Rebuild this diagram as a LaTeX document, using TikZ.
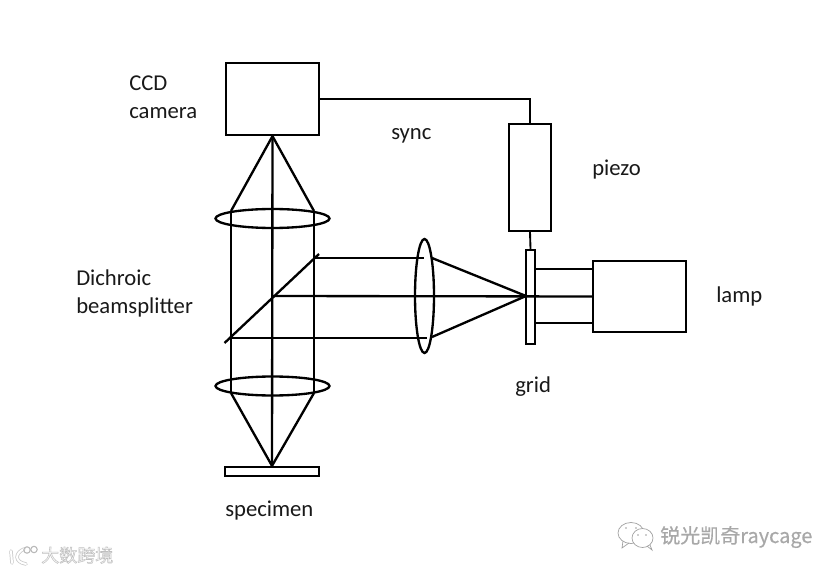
\documentclass[tikz,border=0pt]{standalone}
\usepackage{fontspec}
\setmainfont{Carlito}
\newfontfamily\cjkfont{Noto Sans CJK SC}
\usetikzlibrary{shapes.geometric}
\newlength{\pxu}\setlength{\pxu}{0.75pt}
\newcommand{\outlinedtext}[3]{\special{pdf:code q 2 Tr #3 w #2 G #1 g}}
\newcommand{\outlinedend}{\special{pdf:code Q}}
\tikzset{
  x=\pxu,y=-\pxu,
  boxn/.style={draw=black,line width=1.75pt,rectangle,inner sep=0pt,fill=none},
  lensn/.style={draw=black,line width=1.75pt,ellipse,inner sep=0pt},
  ray/.style={line width=1.75pt,black},
  wire/.style={line width=1.4pt,black},
  lab/.style={anchor=base west,inner sep=0pt,font=\fontsize{17pt}{19pt}\selectfont,text=black!90},
  mark1/.style={anchor=base west,inner sep=0pt,font=\cjkfont\fontsize{15pt}{18pt}\selectfont,text=black!45},
  mark2/.style={anchor=base west,inner sep=0pt,font=\cjkfont\fontsize{13.5pt}{16pt}\selectfont,text=white},
  iconline/.style={black!38,line width=0.5pt},
  logoout/.style={black!22,line width=2.6pt,line cap=round},
  logoin/.style={white,line width=1.5pt,line cap=round},
}
\begin{document}
\begin{tikzpicture}
\useasboundingbox[fill=white] (0,0) rectangle (838,573);
% boxes
\node[boxn,minimum width=93\pxu,minimum height=72\pxu] (ccd) at (272.5,99) {};
\node[boxn,minimum width=42\pxu,minimum height=107\pxu] (piezo) at (530,177.5) {};
\node[boxn,minimum width=9\pxu,minimum height=94\pxu] (grid) at (530.5,297) {};
\node[boxn,minimum width=93\pxu,minimum height=71\pxu] (lamp) at (639.5,296.5) {};
\node[boxn,minimum width=94\pxu,minimum height=9\pxu] (specimen) at (272,471.5) {};
% lenses
\node[lensn,minimum width=114\pxu,minimum height=19\pxu] (lensT) at (272.5,218.5) {};
\node[lensn,minimum width=114\pxu,minimum height=19\pxu] (lensB) at (272.5,386) {};
\node[lensn,minimum width=19\pxu,minimum height=114\pxu] (lensR) at (424.5,296) {};
% named points
\coordinate (apexB) at (specimen.north);
\coordinate (TL) at (231,211);
\coordinate (TR) at (314,211);
\coordinate (BL) at (231,393);
\coordinate (BR) at (314,393);
\coordinate (focus) at (526,296);
\coordinate (splitA) at (224.5,343);
\coordinate (splitB) at (319,254);
\coordinate (midSplit) at (273,296);
\coordinate (upS) at (314,258);
\coordinate (loS) at (231,338);
\coordinate (upL) at (432,258);
\coordinate (loL) at (432,337);
\coordinate (upLe) at (424,258);
\coordinate (loLe) at (427,338);
\coordinate (g1) at (535,269);
\coordinate (g2) at (535,323);
\coordinate (l1) at (593,269);
\coordinate (l2) at (593,323);
% rays
\draw[ray] (ccd.south) -- (specimen.north);
\draw[ray,line join=round] (TL) -- (ccd.south) -- (TR);
\draw[ray] (TL) -- (BL);
\draw[ray] (TR) -- (BR);
\draw[ray,line join=round] (BL) -- (apexB) -- (BR);
\draw[ray] (splitA) -- (splitB);
\draw[ray] (upS) -- (upLe);
\draw[ray] (loS) -- (loLe);
\draw[ray] (midSplit) -- (lamp.west);
\draw[ray] (upL) -- (focus) -- (loL);
\draw[ray] (g1) -- (l1);
\draw[ray] (g2) -- (l2);
% sync wiring
\draw[wire] (ccd.east) -| (piezo.north);
\draw[wire] (piezo.south) -- (grid.north);
% labels
\node[lab] (tCCD) at (129,91) {CCD};
\node[lab] (tcamera) at (129,119) {camera};
\node[lab] (tsync) at (391,140) {sync};
\node[lab] (tpiezo) at (592,176) {piezo};
\node[lab] (tdich) at (76,286) {Dichroic};
\node[lab] (tbeam) at (76,314) {beamsplitter};
\node[lab] (tlamp) at (716,303) {lamp};
\node[lab] (tgrid) at (515,392) {grid};
\node[lab] (tspec) at (225,516.5) {specimen};
% watermark right
\node[mark1] (wmR) at (660,543) {\outlinedtext{0.66}{0.66}{0.05}锐光凯奇raycage\outlinedend};
\draw[iconline,fill=white] (631,533) ellipse (13 and 10.5);
\draw[iconline] (623,541) -- (622,548) -- (629,543);
\draw[iconline,fill=white] (642.5,538) ellipse (10.5 and 9.5);
\draw[iconline] (647,546) -- (652,550) -- (650,545);
\fill[black!38] (626,528) circle (0.9) (636,528) circle (0.9) (638,535) circle (0.9) (646,535) circle (0.9);
% watermark left
\node[mark2] (wmL) at (41,562) {\outlinedtext{1}{0.75}{0.4}大数跨境\outlinedend};
\draw[logoout] (11,551) -- (12,563);
\draw[logoout] (24,549) .. controls (15,553) and (14,562) .. (26,564);
\draw[logoin] (11,551) -- (12,563);
\draw[logoin] (24,549) .. controls (15,553) and (14,562) .. (26,564);
\draw[black!28,line width=0.8pt] (27,550) circle (3.2);
\draw[black!28,line width=0.8pt] (34,549.5) circle (3.2);
\end{tikzpicture}
\end{document}
